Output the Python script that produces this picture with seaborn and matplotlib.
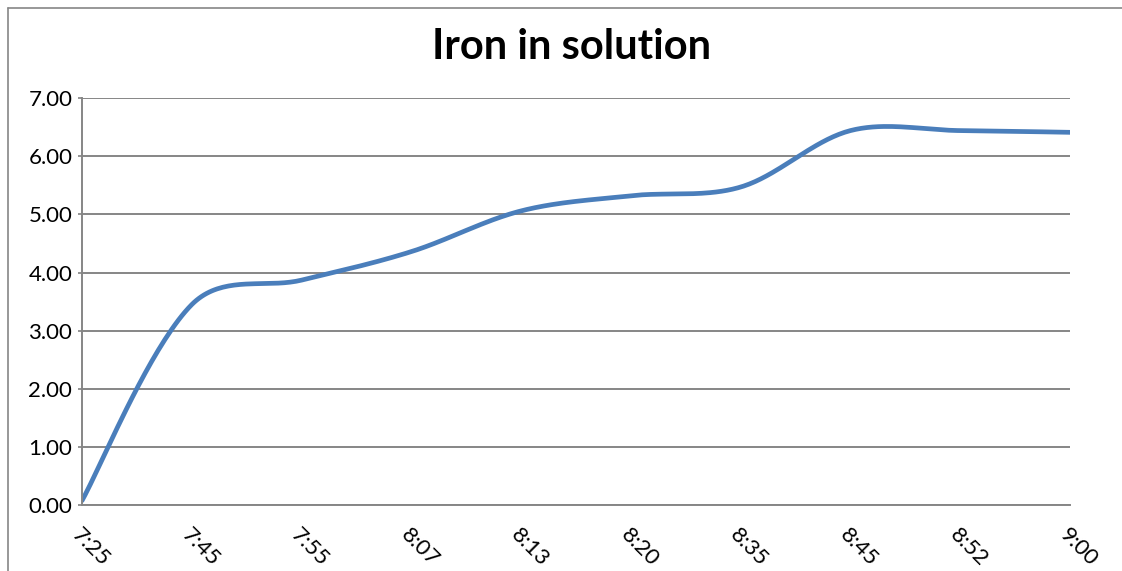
import numpy as np
import pandas as pd
import matplotlib
matplotlib.use("Agg")
import matplotlib.pyplot as plt
from matplotlib.lines import Line2D
import seaborn as sns

# data
times = ["7:25", "7:45", "7:55", "8:07", "8:13", "8:20", "8:35", "8:45", "8:52", "9:00"]
iron = [0.08, 3.45, 3.87, 4.36, 5.06, 5.32, 5.47, 6.44, 6.44, 6.41]
y_ticks = [0, 1, 2, 3, 4, 5, 6, 7]


def smooth_line(xs, ys, yscale=0.53, n=40):
    # Excel style smoothed line: bezier segments, tangents partly weighted by
    # the on-screen length of the neighbouring segments
    xs = np.asarray(xs, float)
    ys = np.asarray(ys, float) * yscale
    pts = np.column_stack([xs, ys])
    m = len(pts)
    c_in = np.zeros_like(pts)
    c_out = np.zeros_like(pts)
    for i in range(m):
        prev = pts[max(i - 1, 0)]
        nxt = pts[min(i + 1, m - 1)]
        d = nxt - prev
        lp = np.linalg.norm(pts[i] - prev)
        ln = np.linalg.norm(nxt - pts[i])
        if lp == 0:
            lp = ln
        if ln == 0:
            ln = lp
        w = 0.5 * 0.5 + 0.5 * ln / (lp + ln)
        c_out[i] = pts[i] + d * w / 3
        c_in[i] = pts[i] - d * (1 - w) / 3
    t = np.linspace(0, 1, n)[:, None]
    segs = []
    for i in range(m - 1):
        p0, p1, p2, p3 = pts[i], c_out[i], c_in[i + 1], pts[i + 1]
        segs.append((1 - t) ** 3 * p0 + 3 * (1 - t) ** 2 * t * p1
                    + 3 * (1 - t) * t ** 2 * p2 + t ** 3 * p3)
    curve = np.vstack(segs)
    return curve[:, 0], curve[:, 1] / yscale


sns.set_theme(style="white")
plt.rcParams['font.family'] = ['Lato', 'DejaVu Sans']
plt.rcParams['text.color'] = 'black'
plt.rcParams['xtick.color'] = 'black'
plt.rcParams['ytick.color'] = 'black'

grey = "#868686"
fig = plt.figure(figsize=(11.22, 5.71), dpi=100)
ax = fig.add_axes([82 / 1122, 1 - 505.3 / 571, 988 / 1122, 407.3 / 571])

pos = np.arange(len(times))
sx, sy = smooth_line(pos, iron)
df = pd.DataFrame({"pos": sx, "iron": sy})
sns.lineplot(data=df, x="pos", y="iron", ax=ax, color="#4A7EBB", linewidth=3.4,
             sort=False, estimator=None)

ax.set_xlim(0, len(times) - 1)
ax.set_ylim(0, 7)
ax.set_yticks(y_ticks)
ax.set_yticklabels([f"{v:.2f}" for v in y_ticks], fontsize=16)
ax.set_xticks(pos)
ax.set_xticklabels(times, fontsize=16, rotation=-45, ha="left", va="top",
                   rotation_mode="anchor")
ax.set_xlabel("")
ax.set_ylabel("")
ax.grid(axis="y", color=grey, linewidth=1.4)
ax.set_axisbelow(True)
for side in ["top", "right"]:
    ax.spines[side].set_visible(False)
for side in ["left", "bottom"]:
    ax.spines[side].set_color(grey)
    ax.spines[side].set_linewidth(1.4)
ax.tick_params(axis="y", left=True, length=3, color=grey, pad=4, labelcolor="black")
ax.tick_params(axis="x", bottom=False, pad=8, labelcolor="black")

fig.text(0.509, 1 - 47 / 571, "Iron in solution", ha="center", va="center",
         fontsize=30, fontweight="bold", color="black")

# outer chart frame (cropped on right and bottom)
fig.add_artist(Line2D([8 / 1122, 8 / 1122], [0, 1 - 8 / 571], color=grey, linewidth=1.2))
fig.add_artist(Line2D([8 / 1122, 1], [1 - 8 / 571, 1 - 8 / 571], color=grey, linewidth=1.2))

fig.savefig("out.png", dpi=100)
